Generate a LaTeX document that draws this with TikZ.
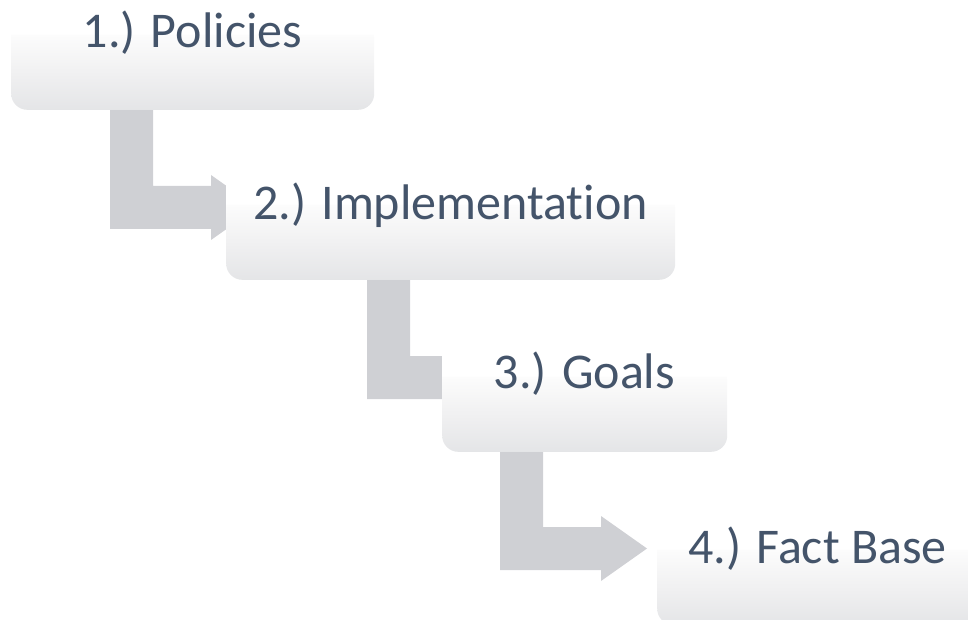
\documentclass[tikz,border=0pt]{standalone}
\usepackage{fontspec}
\setmainfont{Carlito}[Ligatures=NoCommon]
\usetikzlibrary{calc,backgrounds}

\definecolor{steptext}{RGB}{68,84,106}
\definecolor{arrowgray}{RGB}{207,208,212}
\definecolor{boxbot}{RGB}{228,229,231}
\definecolor{boxlow}{RGB}{240,240,241}
\definecolor{boxmid}{RGB}{252,252,252}

% white upper half, soft grey fade in the lower half
\pgfdeclareverticalshading{stepshade}{100bp}{%
  color(0bp)=(boxbot); color(25bp)=(boxbot); color(37bp)=(boxlow);
  color(50bp)=(boxmid); color(50.5bp)=(white); color(100bp)=(white)}

% bent block arrow: #1 start point (under a box), #2 drop to the centre of the horizontal bar
\newcommand{\bentarrow}[2]{%
  \fill[bentfill] #1 -- ++(43,0) -- ++(0,{#2-21.5}) -- ++(58,0) -- ++(0,-11)
    -- ++(46,32.5) -- ++(-46,32.5) -- ++(0,-11) -- ++(-101,0) -- cycle;}

\begin{document}
\begin{tikzpicture}[x=1pt,y=-1pt,
  stepbox/.style={rectangle, rounded corners=16pt, shading=stepshade,
    draw=none, inner sep=0pt, minimum height=150pt, anchor=south west},
  steplabel/.style={text=steptext, font=\fontsize{50}{60}\selectfont,
    anchor=base, inner sep=0pt},
  bentfill/.style={fill=arrowgray, draw=none}]
\useasboundingbox (0,0) rectangle (968,620);
\clip (0,0) rectangle (968,620);

% step boxes
\node[stepbox, minimum width=363pt] (b1) at (11,110) {};
\node[stepbox, minimum width=449pt] (b2) at (226,280) {};
\node[stepbox, minimum width=285pt] (b3) at (442,452) {};
\node[stepbox, minimum width=321pt] (b4) at (657,625) {};

% labels
\node[steplabel] (t1) at (192.5,48) {1.) Policies};
\node[steplabel] (t2) at (450.5,220) {2.) Implementation};
\node[steplabel] (t3) at (584.5,388) {3.) Goals};
\node[steplabel] (t4) at (817.5,563) {4.) Fact Base};

% connecting arrows, tucked behind the boxes
\begin{scope}[on background layer]
  \bentarrow{($(b1.south west)+(99,-10)$)}{107.5}
  \bentarrow{($(b2.south west)+(141,-10)$)}{107.5}
  \bentarrow{($(b3.south west)+(58,-10)$)}{106.5}
\end{scope}
\end{tikzpicture}
\end{document}
